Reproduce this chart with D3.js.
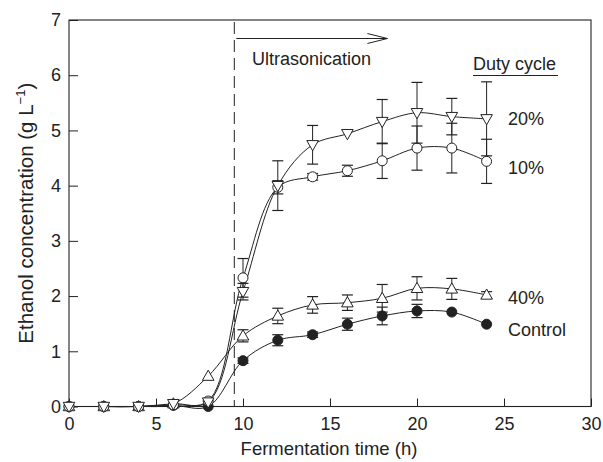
<!DOCTYPE html>
<html><head><meta charset="utf-8">
<script src="https://cdn.jsdelivr.net/npm/d3@7/dist/d3.min.js"></script>
<style>body{margin:0;background:#fff}svg{display:block;font-family:"Liberation Sans",Arial,sans-serif}</style>
</head><body><svg id="c" width="603" height="462"></svg>
<script>
const times = [0,2,4,6,8,10,12,14,16,18,20,22,24];
const control = [0,0,0,0.02,0,0.83,1.2,1.30,1.49,1.64,1.73,1.71,1.49];
const controlErr = [0,0,0,0,0,0.05,0.1,0.05,0.11,0.16,0.12,0.03,0.03];
const duty40 = [0,0,0,0.05,0.55,1.28,1.64,1.84,1.88,1.96,2.14,2.13,2.02];
const duty40Err = [0,0,0,0,0,0.11,0.14,0.15,0.14,0.25,0.21,0.19,0.06];
const duty10 = [0,0,0,0.03,0.1,2.33,3.97,4.16,4.27,4.45,4.68,4.68,4.44];
const duty10Err = [0,0,0,0,0,0.35,0.12,0.06,0.1,0.32,0.4,0.45,0.4];
const duty20 = [0,0,0,0.05,0.08,2.08,4.0,4.74,4.94,5.16,5.32,5.25,5.21];
const duty20Err = [0,0,0,0,0,0.15,0.45,0.35,0.03,0.4,0.55,0.33,0.67];
const xTicks = [0,5,10,15,20,25,30];
const yTicks = [0,1,2,3,4,5,6,7];
const ultrasonicStart = 9.5;
const ultrasonicEnd = 18.3;

const svg = d3.select("#c");
const L=69,R=591,T=20,B=406.5;
const x = d3.scaleLinear().domain([0,30]).range([L,R]);
const y = d3.scaleLinear().domain([0,7]).range([B,T]);
const ink="#222";
const FF="Liberation Sans, Arial, sans-serif";

// axes
const gx = svg.append("g").attr("transform",`translate(0,${B})`)
  .call(d3.axisBottom(x).tickValues(xTicks).tickFormat(d3.format("d")).tickSize(-8).tickPadding(12));
const gy = svg.append("g").attr("transform",`translate(${L},0)`)
  .call(d3.axisLeft(y).tickValues(yTicks).tickFormat(d3.format("d")).tickSize(-9).tickPadding(8));
[gx,gy].forEach(g=>{
  g.select(".domain").remove();
  g.selectAll("line").attr("stroke",ink);
  g.selectAll("text").attr("font-size",18).attr("fill",ink).attr("font-family",FF);
});
gx.selectAll("line").attr("y2",-8);
gy.selectAll("line").attr("x2",9);
gx.selectAll("text").attr("y",11).attr("dy","0.71em");
gy.selectAll("text").attr("x",-8);
svg.append("rect").attr("x",L).attr("y",T).attr("width",R-L).attr("height",B-T)
  .attr("fill","none").attr("stroke",ink).attr("stroke-width",1.1);

// dashed line
svg.append("line").attr("x1",x(ultrasonicStart)).attr("x2",x(ultrasonicStart))
  .attr("y1",T+2).attr("y2",B).attr("stroke",ink).attr("stroke-dasharray","12,6").attr("stroke-width",1);
// arrow
const ay = 38.5, ax1 = x(ultrasonicStart)+2, ax2 = x(ultrasonicEnd);
svg.append("line").attr("x1",ax1).attr("x2",ax2).attr("y1",ay).attr("y2",ay).attr("stroke",ink);
svg.append("path").attr("d",`M${ax2-20},${ay-5}L${ax2},${ay}L${ax2-20},${ay+5}`).attr("fill","none").attr("stroke",ink);
svg.append("text").attr("x",252).attr("y",65).attr("font-size",18).attr("fill",ink).text("Ultrasonication");

// Duty cycle
svg.append("text").attr("x",473).attr("y",70).attr("font-size",18).attr("fill",ink).text("Duty cycle");
svg.append("line").attr("x1",473).attr("x2",558).attr("y1",75.5).attr("y2",75.5).attr("stroke",ink);

const series = [
  {name:"Control", vals:control, err:controlErr, sym:"circle", fill:ink, label:"Control", ly:336},
  {name:"40%", vals:duty40, err:duty40Err, sym:"up", fill:"#fff", label:"40%", ly:304},
  {name:"10%", vals:duty10, err:duty10Err, sym:"circle", fill:"#fff", label:"10%", ly:174},
  {name:"20%", vals:duty20, err:duty20Err, sym:"down", fill:"#fff", label:"20%", ly:125},
];
const line = d3.line().x(d=>x(d[0])).y(d=>y(d[1])).curve(d3.curveCatmullRom.alpha(0.5));
series.forEach(s=>{
  const pts = times.map((t,i)=>[t,s.vals[i],s.err[i]]);
  svg.append("path").attr("d",line(pts)).attr("fill","none").attr("stroke",ink).attr("stroke-width",1);
});
series.forEach(s=>{
  const pts = times.map((t,i)=>[t,s.vals[i],s.err[i]]);
  const g = svg.append("g");
  pts.filter(p=>p[2]>0.04).forEach(p=>{
    const cx=x(p[0]), y1=y(p[1]+p[2]), y2=y(p[1]-p[2]);
    g.append("line").attr("x1",cx).attr("x2",cx).attr("y1",y1).attr("y2",y2).attr("stroke",ink);
    [y1,y2].forEach(yy=>g.append("line").attr("x1",cx-5.5).attr("x2",cx+5.5).attr("y1",yy).attr("y2",yy).attr("stroke",ink).attr("stroke-width",1.2));
  });
  pts.forEach(p=>{
    const cx=x(p[0]), cy=y(p[1]);
    if(s.sym==="circle"){
      g.append("circle").attr("cx",cx).attr("cy",cy).attr("r",5).attr("fill",s.fill).attr("stroke",ink).attr("stroke-width",1);
    } else if(s.sym==="up"){
      g.append("path").attr("d",`M${cx},${cy-6}L${cx+5.8},${cy+4.2}L${cx-5.8},${cy+4.2}Z`).attr("fill","#fff").attr("stroke",ink);
    } else {
      g.append("path").attr("d",`M${cx},${cy+6}L${cx+5.8},${cy-4.2}L${cx-5.8},${cy-4.2}Z`).attr("fill","#fff").attr("stroke",ink);
    }
  });
  svg.append("text").attr("x",508).attr("y",s.ly).attr("font-size",18).attr("fill",ink).text(s.label);
});

// axis titles
svg.append("text").attr("x",x(15)-1).attr("y",455).attr("text-anchor","middle").attr("font-size",18.5).attr("fill",ink).text("Fermentation time (h)");
const yt = svg.append("text").attr("transform",`translate(33,${(T+B)/2}) rotate(-90)`).attr("text-anchor","middle").attr("font-size",20.5).attr("fill",ink);
yt.append("tspan").text("Ethanol concentration (g L");
yt.append("tspan").attr("dy",-8).attr("font-size",13).text("\u22121");
yt.append("tspan").attr("dy",8).text(")");
</script></body></html>
